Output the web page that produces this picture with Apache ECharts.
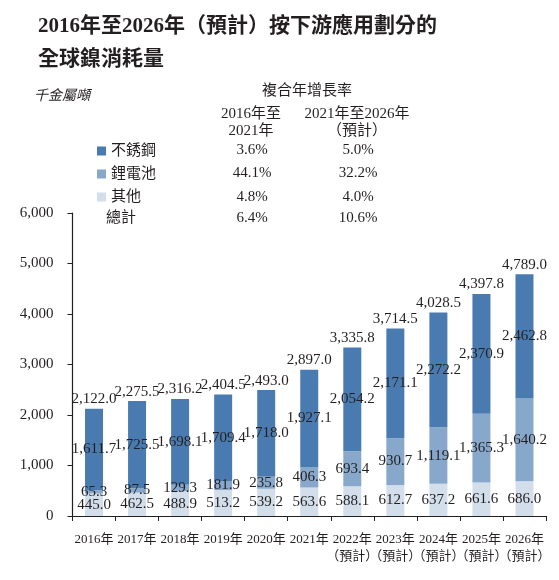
<!DOCTYPE html>
<html><head><meta charset="utf-8">
<script src="https://cdn.jsdelivr.net/npm/echarts@6/dist/echarts.min.js"></script>
<style>html,body{margin:0;padding:0;background:#fff}#c{width:559px;height:580px}</style>
</head><body><div id="c"></div>
<script>
const categories = ['2016年','2017年','2018年','2019年','2020年','2021年','2022年\n（預計）','2023年\n（預計）','2024年\n（預計）','2025年\n（預計）','2026年\n（預計）'];
const stainless = [1611.7,1725.5,1698.1,1709.4,1718.0,1927.1,2054.2,2171.1,2272.2,2370.9,2462.8];
const battery = [65.3,87.5,129.3,181.9,235.8,406.3,693.4,930.7,1119.1,1365.3,1640.2];
const others = [445.0,462.5,488.9,513.2,539.2,563.6,588.1,612.7,637.2,661.6,686.0];
const totals = [2122.0,2275.5,2316.2,2404.5,2493.0,2897.0,3335.8,3714.5,4028.5,4397.8,4789.0];
const seriesNames = ['不銹鋼','鋰電池','其他'];
const cagrRows = ['不銹鋼','鋰電池','其他','總計'];
const cagr1621 = ['3.6%','44.1%','4.8%','6.4%'];
const cagr2126 = ['5.0%','32.2%','4.0%','10.6%'];
const titleText = '2016年至2026年（預計）按下游應用劃分的\n全球鎳消耗量';
const unitText = '千金屬噸';
const cagrTitle = '複合年增長率';
const col1Head = '2016年至\n2021年';
const col2Head = '2021年至2026年\n（預計）';

const FONT = "'Liberation Serif','Noto Sans CJK TC',serif";
const INK = '#231F20';
const colors = {'不銹鋼':'#4A7BB0','鋰電池':'#87A8CB','其他':'#D3DEEB'};
const fmt = v => Number(v).toLocaleString('en-US',{minimumFractionDigits:1,maximumFractionDigits:1});
const lbl = {show:true,position:'inside',color:INK,fontFamily:FONT,fontSize:15,formatter:p=>fmt(p.value)};

const chart = echarts.init(document.getElementById('c'), null, {renderer:'canvas'});

const graphics = [];
graphics.push({type:'text',left:34,top:89,style:{text:unitText,font:"italic 14px "+FONT,fill:INK}});
graphics.push({type:'text',x:307,y:91,style:{text:cagrTitle,font:"15px "+FONT,fill:INK,align:'center',verticalAlign:'middle'}});
graphics.push({type:'text',x:251,y:123,style:{text:col1Head,font:"15px "+FONT,fill:INK,align:'center',verticalAlign:'middle',lineHeight:17}});
graphics.push({type:'text',x:357,y:123,style:{text:col2Head,font:"15px "+FONT,fill:INK,align:'center',verticalAlign:'middle',lineHeight:17}});
const rowY = [150,173,197,218];
cagrRows.forEach((r,i)=>{
  if(i===3){graphics.push({type:'text',x:106,y:rowY[i],style:{text:r,font:"15px "+FONT,fill:INK,align:'left',verticalAlign:'middle'}});}
  graphics.push({type:'text',x:252,y:rowY[i],style:{text:cagr1621[i],font:"15px "+FONT,fill:INK,align:'center',verticalAlign:'middle'}});
  graphics.push({type:'text',x:358,y:rowY[i],style:{text:cagr2126[i],font:"15px "+FONT,fill:INK,align:'center',verticalAlign:'middle'}});
});

const option = {
  animation:false,
  backgroundColor:'#fff',
  textStyle:{fontFamily:FONT,color:INK},
  title:{text:titleText,left:33,top:5,textStyle:{fontFamily:FONT,fontWeight:'bold',fontSize:21,lineHeight:33,color:INK}},
  legend:{data:seriesNames,orient:'vertical',left:92,top:138,itemWidth:9,itemHeight:9,itemGap:7,icon:'rect',
    textStyle:{fontFamily:FONT,fontSize:15,color:INK,lineHeight:16},selectedMode:false},
  grid:{left:72.5,right:13,top:213,bottom:64,containLabel:false},
  xAxis:{type:'category',data:categories,
    axisLine:{lineStyle:{color:INK,width:1.2}},
    axisTick:{show:true,alignWithLabel:false,length:5,lineStyle:{color:INK}},
    axisLabel:{fontFamily:FONT,fontSize:13,color:INK,lineHeight:17,margin:15,interval:0}},
  yAxis:{type:'value',min:0,max:6000,interval:1000,
    splitLine:{show:false},
    axisLine:{show:true,lineStyle:{color:INK,width:1.2}},
    axisTick:{show:true,length:5,lineStyle:{color:INK}},
    axisLabel:{fontFamily:FONT,fontSize:15,color:INK,margin:19,formatter:v=>v.toLocaleString('en-US')}},
  graphic:graphics,
  series:[
    {name:'其他',type:'bar',stack:'t',barWidth:18,data:others,itemStyle:{color:colors['其他']},label:lbl},
    {name:'鋰電池',type:'bar',stack:'t',barWidth:18,data:battery,itemStyle:{color:colors['鋰電池']},label:lbl},
    {name:'不銹鋼',type:'bar',stack:'t',barWidth:18,data:stainless,itemStyle:{color:colors['不銹鋼']},label:lbl},
    {name:'總計',type:'bar',barWidth:18,barGap:'-100%',data:totals,silent:true,z:1,
      itemStyle:{color:'rgba(0,0,0,0)'},
      label:{show:true,position:'top',distance:2,color:INK,fontFamily:FONT,fontSize:15,formatter:p=>fmt(p.value)}}
  ]
};
chart.setOption(option);
</script></body></html>
